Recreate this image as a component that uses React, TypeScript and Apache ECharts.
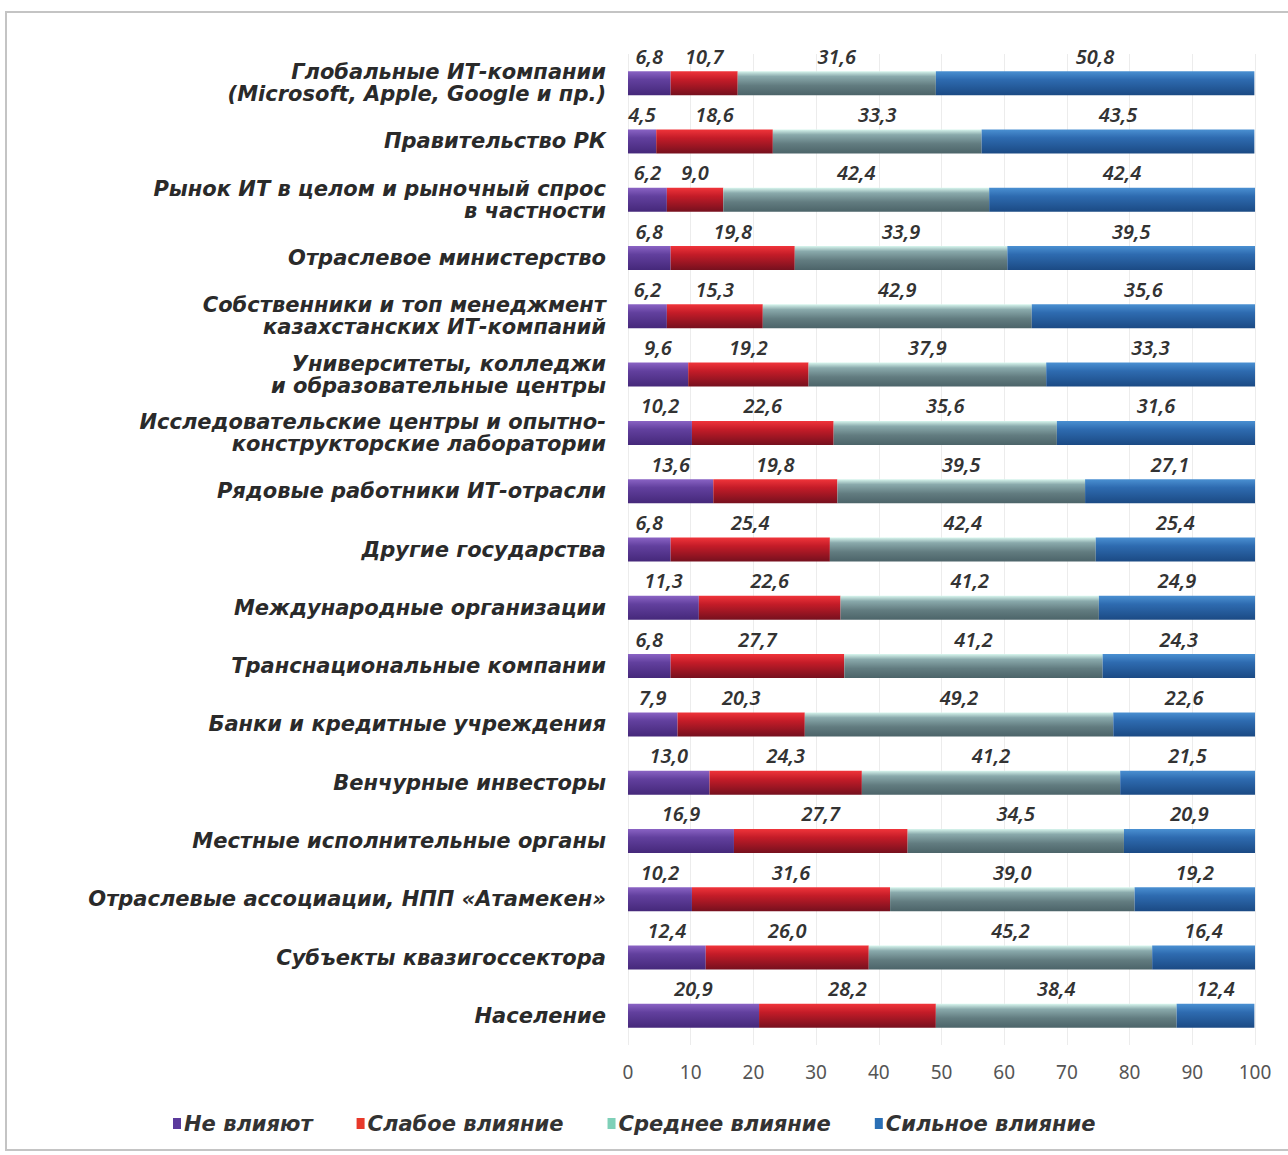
import React, { useEffect, useRef } from "react";
import * as echarts from "echarts";

const categories = [
  "Глобальные ИТ-компании\n(Microsoft, Apple, Google и пр.)",
  "Правительство РК",
  "Рынок ИТ в целом и рыночный спрос\nв частности",
  "Отраслевое министерство",
  "Собственники и топ менеджмент\nказахстанских ИТ-компаний",
  "Университеты, колледжи\nи образовательные центры",
  "Исследовательские центры и опытно-\nконструкторские лаборатории",
  "Рядовые работники ИТ-отрасли",
  "Другие государства",
  "Международные организации",
  "Транснациональные компании",
  "Банки и кредитные учреждения",
  "Венчурные инвесторы",
  "Местные исполнительные органы",
  "Отраслевые ассоциации, НПП «Атамекен»",
  "Субъекты квазигоссектора",
  "Население",
];

const seriesNames = ["Не влияют", "Слабое влияние", "Среднее влияние", "Сильное влияние"];

const noInfluence = [6.8, 4.5, 6.2, 6.8, 6.2, 9.6, 10.2, 13.6, 6.8, 11.3, 6.8, 7.9, 13.0, 16.9, 10.2, 12.4, 20.9];
const weakInfluence = [10.7, 18.6, 9.0, 19.8, 15.3, 19.2, 22.6, 19.8, 25.4, 22.6, 27.7, 20.3, 24.3, 27.7, 31.6, 26.0, 28.2];
const mediumInfluence = [31.6, 33.3, 42.4, 33.9, 42.9, 37.9, 35.6, 39.5, 42.4, 41.2, 41.2, 49.2, 41.2, 34.5, 39.0, 45.2, 38.4];
const strongInfluence = [50.8, 43.5, 42.4, 39.5, 35.6, 33.3, 31.6, 27.1, 25.4, 24.9, 24.3, 22.6, 21.5, 20.9, 19.2, 16.4, 12.4];

const seriesValues = [noInfluence, weakInfluence, mediumInfluence, strongInfluence];

const legendColors = ["#5b3a9c", "#e8392a", "#7fd0b8", "#2a6fb5"];

const gradients = [
  [
    [0, "#8a63c4"],
    [0.35, "#62409e"],
    [1, "#45287a"],
  ],
  [
    [0, "#f0343a"],
    [0.35, "#c41c28"],
    [1, "#76101e"],
  ],
  [
    [0, "#d8f6ee"],
    [0.22, "#8aaaac"],
    [0.6, "#627c80"],
    [1, "#4c6469"],
  ],
  [
    [0, "#4a90d2"],
    [0.35, "#2e6bb0"],
    [1, "#1b4a84"],
  ],
];

const FONT = "DejaVu Sans";

export default function App() {
  const ref = useRef<HTMLDivElement>(null);

  useEffect(() => {
    if (!ref.current) return;
    const chart = echarts.init(ref.current, null, { renderer: "svg" });
    const option = {
      animation: false,
      backgroundColor: "#ffffff",
      textStyle: { fontFamily: FONT },
      graphic: [
        {
          type: "rect",
          shape: { x: 6, y: 12, width: 1300, height: 1138 },
          style: { fill: "none", stroke: "#c4c4c4", lineWidth: 2 },
          silent: true,
          z: -10,
        },
      ],
      legend: {
        bottom: 16,
        left: 168,
        icon: "rect",
        itemWidth: 8,
        itemHeight: 11,
        itemGap: 44,
        textStyle: {
          fontFamily: FONT,
          fontStyle: "italic",
          fontWeight: "bold",
          fontSize: 21,
          color: "#333333",
          padding: [0, 0, 0, -2],
        },
        data: seriesNames.map((n, i) => ({ name: n, itemStyle: { color: legendColors[i] } })),
      },
      grid: { left: 628, right: 33, top: 54, bottom: 110 },
      xAxis: {
        type: "value",
        min: 0,
        max: 100,
        interval: 10,
        axisLine: { show: false },
        axisTick: { show: false },
        splitLine: { show: true, lineStyle: { color: "#ececec", width: 1 } },
        axisLabel: { fontFamily: "Noto Sans", fontSize: 19, color: "#555555", margin: 17 },
      },
      yAxis: {
        type: "category",
        inverse: true,
        data: categories,
        axisLine: { show: false },
        axisTick: { show: false },
        axisLabel: {
          fontFamily: FONT,
          fontStyle: "italic",
          fontWeight: "bold",
          fontSize: 21,
          lineHeight: 22,
          color: "#2a2a2a",
          margin: 22,
          align: "right",
        },
      },
      series: seriesValues.map((vals, i) => ({
        name: seriesNames[i],
        type: "bar",
        stack: "total",
        barWidth: 24,
        data: vals,
        itemStyle: {
          color: new echarts.graphic.LinearGradient(
            0,
            0,
            0,
            1,
            gradients[i].map(([o, c]) => ({ offset: o as number, color: c as string }))
          ),
        },
        label: {
          show: true,
          position: "top",
          distance: 5,
          fontFamily: "Noto Sans",
          fontStyle: "italic",
          fontWeight: 600,
          fontSize: 20,
          color: "#333333",
          formatter: (p: any) => Number(p.value).toFixed(1).replace(".", ","),
        },
      })),
    };
    chart.setOption(option as any);
    return () => chart.dispose();
  }, []);

  return (
    <div
      ref={ref}
      style={{ position: "absolute", left: 0, top: 0, width: 1288, height: 1155 }}
    />
  );
}
